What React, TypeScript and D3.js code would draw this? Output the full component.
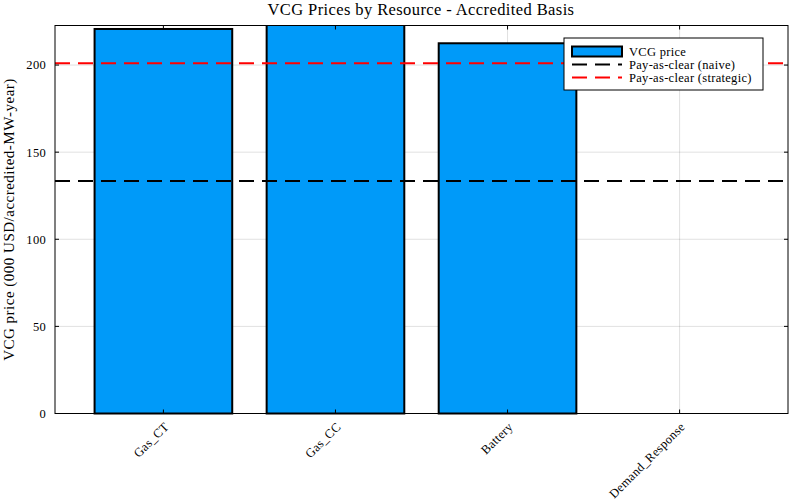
import * as d3 from 'd3'

const WIDTH = 800
const HEIGHT = 500
const MARGIN = { top: 25.5, right: 12, bottom: 86.5, left: 55 }

// data
const resources = ['Gas_CT', 'Gas_CC', 'Battery', 'Demand_Response']
const vcgPrices = [220.7, 223.5, 212.5, 0]
const payAsClearNaive = 133.5
const payAsClearStrategic = 201.0
const yTicks = [0, 50, 100, 150, 200]

const FONT = '"Liberation Serif", "DejaVu Serif", serif'
const BAR_BLUE = '#009af9'

export default function App() {
  const boundsWidth = WIDTH - MARGIN.left - MARGIN.right
  const boundsHeight = HEIGHT - MARGIN.top - MARGIN.bottom

  // bars sit at i + 0.5, width 0.8
  const xScale = d3.scaleLinear().domain([-0.13, resources.length + 0.13]).range([0, boundsWidth])
  const yScale = d3.scaleLinear().domain([0, 222.7]).range([boundsHeight, 0])

  const xTickPos = resources.map((_, i) => xScale(i + 0.5))

  const legendX = 564 - MARGIN.left
  const legendY = 38 - MARGIN.top
  const tickFont = { fontFamily: FONT, fontSize: 12.5, letterSpacing: 0.3, fill: '#000' }

  return (
    <svg width={WIDTH} height={HEIGHT} style={{ display: 'block', position: 'absolute', left: 0, top: 0 }}>
      <rect width={WIDTH} height={HEIGHT} fill="white" />
      <text x={421} y={15} textAnchor="middle" fontFamily={FONT} fontSize={16.5} letterSpacing={0.4} fill="#000">
        VCG Prices by Resource - Accredited Basis
      </text>
      <text
        transform={`translate(14, ${MARGIN.top + boundsHeight / 2}) rotate(-90)`}
        textAnchor="middle"
        fontFamily={FONT}
        fontSize={15}
        letterSpacing={0.5}
        fill="#000"
      >
        VCG price (000 USD/accredited-MW-year)
      </text>

      <defs>
        <clipPath id="plot-clip">
          <rect y={0} width={boundsWidth} height={boundsHeight + 2} />
        </clipPath>
      </defs>

      <g transform={`translate(${MARGIN.left},${MARGIN.top})`}>
        {/* grid */}
        {yTicks.map((t) => (
          <line key={'gy' + t} x1={0} x2={boundsWidth} y1={yScale(t)} y2={yScale(t)} stroke="#000" strokeOpacity={0.12} />
        ))}
        {xTickPos.map((x, i) => (
          <line key={'gx' + i} x1={x} x2={x} y1={0} y2={boundsHeight} stroke="#000" strokeOpacity={0.12} />
        ))}

        {/* bars */}
        <g clipPath="url(#plot-clip)">
          {vcgPrices.map((v, i) => (
            <rect
              key={resources[i]}
              x={xScale(i + 0.1)}
              y={yScale(v)}
              width={xScale(i + 0.9) - xScale(i + 0.1)}
              height={boundsHeight - yScale(v)}
              fill={BAR_BLUE}
              stroke="#000"
              strokeWidth={2}
            />
          ))}
          <line
            x1={0}
            x2={boundsWidth}
            y1={yScale(payAsClearNaive)}
            y2={yScale(payAsClearNaive)}
            stroke="#000"
            strokeWidth={2}
            strokeDasharray="15 8"
          />
          <line
            x1={0}
            x2={boundsWidth}
            y1={yScale(payAsClearStrategic)}
            y2={yScale(payAsClearStrategic)}
            stroke="#ff0000"
            strokeWidth={2}
            strokeDasharray="15 8"
          />
        </g>

        {/* frame and ticks */}
        <rect width={boundsWidth} height={boundsHeight} fill="none" stroke="#000" strokeWidth={1} />
        {yTicks.map((t) => (
          <g key={'ty' + t}>
            <line x1={0} x2={4} y1={yScale(t)} y2={yScale(t)} stroke="#000" />
            <line x1={boundsWidth - 4} x2={boundsWidth} y1={yScale(t)} y2={yScale(t)} stroke="#000" />
            <text x={-9} y={yScale(t)} dy="0.35em" textAnchor="end" {...tickFont}>
              {t}
            </text>
          </g>
        ))}
        {xTickPos.map((x, i) => (
          <g key={'tx' + i}>
            <line x1={x} x2={x} y1={boundsHeight} y2={boundsHeight - 4} stroke="#000" />
            <line x1={x} x2={x} y1={0} y2={4} stroke="#000" />
            <text
              transform={`translate(${x + 3},${boundsHeight + 11}) rotate(-45)`}
              textAnchor="end"
              dy="0.35em"
              {...tickFont}
            >
              {resources[i]}
            </text>
          </g>
        ))}

        {/* legend */}
        <g transform={`translate(${legendX},${legendY})`}>
          <rect width={199} height={52} fill="white" stroke="#000" strokeWidth={1} />
          <rect x={8} y={8.5} width={50} height={10} fill={BAR_BLUE} stroke="#000" strokeWidth={2} />
          <text x={65} y={14} dy="0.35em" {...tickFont}>VCG price</text>
          <line x1={8} x2={58} y1={26.5} y2={26.5} stroke="#000" strokeWidth={2} strokeDasharray="15 8" />
          <text x={65} y={26.5} dy="0.35em" {...tickFont}>Pay-as-clear (naive)</text>
          <line x1={8} x2={58} y1={39.5} y2={39.5} stroke="#ff0000" strokeWidth={2} strokeDasharray="15 8" />
          <text x={65} y={39.5} dy="0.35em" {...tickFont}>Pay-as-clear (strategic)</text>
        </g>
      </g>
    </svg>
  )
}
